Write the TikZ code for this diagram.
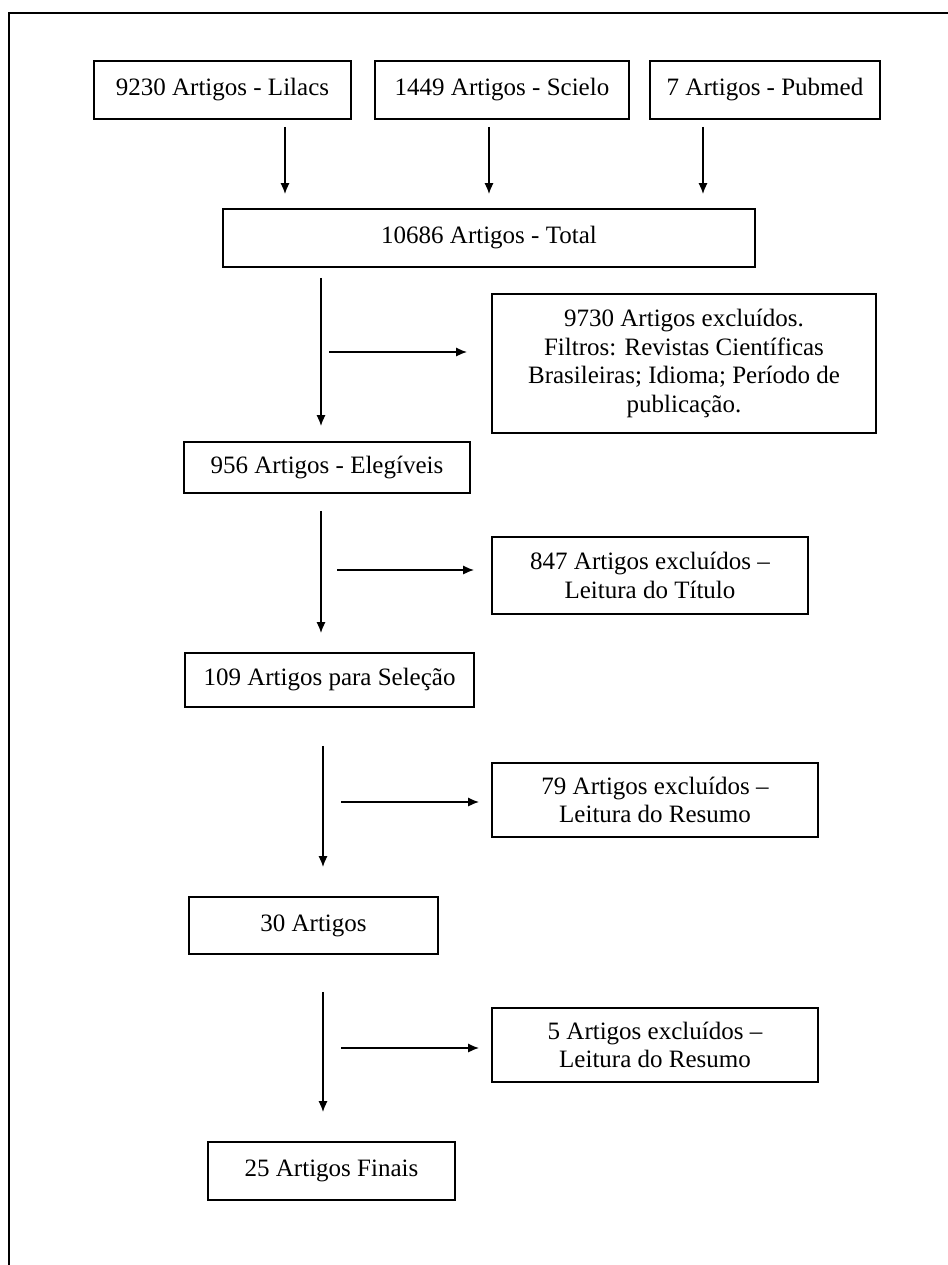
\documentclass[tikz,border=0pt]{standalone}
\usepackage{fontspec}
\setmainfont{Liberation Serif}
\usetikzlibrary{arrows.meta}

\begin{document}
\begin{tikzpicture}[x=0.5pt,y=-0.5pt]
\tikzstyle{caixa} = [draw, line width=0.9pt, align=center, inner sep=0pt, font=\fontsize{12.5}{14.2}\selectfont] % estilo das caixas
\tikzstyle{seta} = [-{Latex[length=5.5pt,width=4.6pt]}, line width=0.8pt] % estilo das setas
\useasboundingbox (0,0) rectangle (948,1265);
\draw[line width=0.9pt] (9,1265) -- (9,13) -- (948,13); % moldura
% bases de dados
\node[caixa, minimum width=128.5pt, minimum height=29pt] (lilacs) at (222.5,90) {9230 Artigos - Lilacs};
\node[caixa, minimum width=127pt, minimum height=29pt] (scielo) at (502,90) {1449 Artigos - Scielo};
\node[caixa, minimum width=115pt, minimum height=29pt] (pubmed) at (765,90) {7 Artigos - Pubmed};
\node[caixa, minimum width=266pt, minimum height=29pt] (total) at (489,238) {10686 Artigos - Total};
% etapas de selecao
\node[caixa, minimum width=192pt, minimum height=69.5pt] (excl1) at (684,363.5) {9730 Artigos excluídos.\\ Filtros: Revistas Científicas\\ Brasileiras; Idioma; Período de\\ publicação.};
\node[caixa, minimum width=143pt, minimum height=25.5pt] (elegiveis) at (327,467.5) {956 Artigos - Elegíveis};
\node[caixa, minimum width=158pt, minimum height=38.5pt] (excl2) at (650,575.5) {847 Artigos excluídos –\\ Leitura do Título};
\node[caixa, minimum width=144.5pt, minimum height=27pt] (selecao) at (329.5,680) {109 Artigos para Seleção};
\node[caixa, minimum width=163pt, minimum height=37pt] (excl3) at (655,800) {79 Artigos excluídos –\\ Leitura do Resumo};
\node[caixa, minimum width=124.5pt, minimum height=28.5pt] (trinta) at (313.5,925.5) {30 Artigos};
\node[caixa, minimum width=163pt, minimum height=37pt] (excl4) at (655,1045) {5 Artigos excluídos –\\ Leitura do Resumo};
\node[caixa, minimum width=123.5pt, minimum height=29pt] (finais) at (331.5,1171) {25 Artigos Finais};
% eixos das setas
\coordinate (c1) at (285,0);
\coordinate (c2) at (489,0);
\coordinate (c3) at (703,0);
\coordinate (eixo) at (321,0);
\coordinate (eixob) at (323,0);
\coordinate (h1) at (329,352);
\coordinate (h2) at (337,570);
\coordinate (h3) at (341,802);
\coordinate (h4) at (341,1048);
% setas verticais
\draw[seta, shorten <=3.5pt, shorten >=7pt] (lilacs.south -| c1) -- (total.north -| c1);
\draw[seta, shorten <=3.5pt, shorten >=7pt] (scielo.south -| c2) -- (total.north -| c2);
\draw[seta, shorten <=3.5pt, shorten >=7pt] (pubmed.south -| c3) -- (total.north -| c3);
\draw[seta, shorten <=5pt, shorten >=7.5pt] (total.south -| eixo) -- (elegiveis.north -| eixo);
\draw[seta, shorten <=8.5pt, shorten >=9.5pt] (elegiveis.south -| eixo) -- (selecao.north -| eixo);
\draw[seta, shorten <=19pt, shorten >=14.5pt] (selecao.south -| eixob) -- (trinta.north -| eixob);
\draw[seta, shorten <=18.5pt, shorten >=14.5pt] (trinta.south -| eixob) -- (finais.north -| eixob);
% setas para as exclusoes
\draw[seta, shorten >=12pt] (h1) -- (h1 -| excl1.west);
\draw[seta, shorten >=8.5pt] (h2) -- (h2 -| excl2.west);
\draw[seta, shorten >=6pt] (h3) -- (h3 -| excl3.west);
\draw[seta, shorten >=6pt] (h4) -- (h4 -| excl4.west);
\end{tikzpicture}
\end{document}
